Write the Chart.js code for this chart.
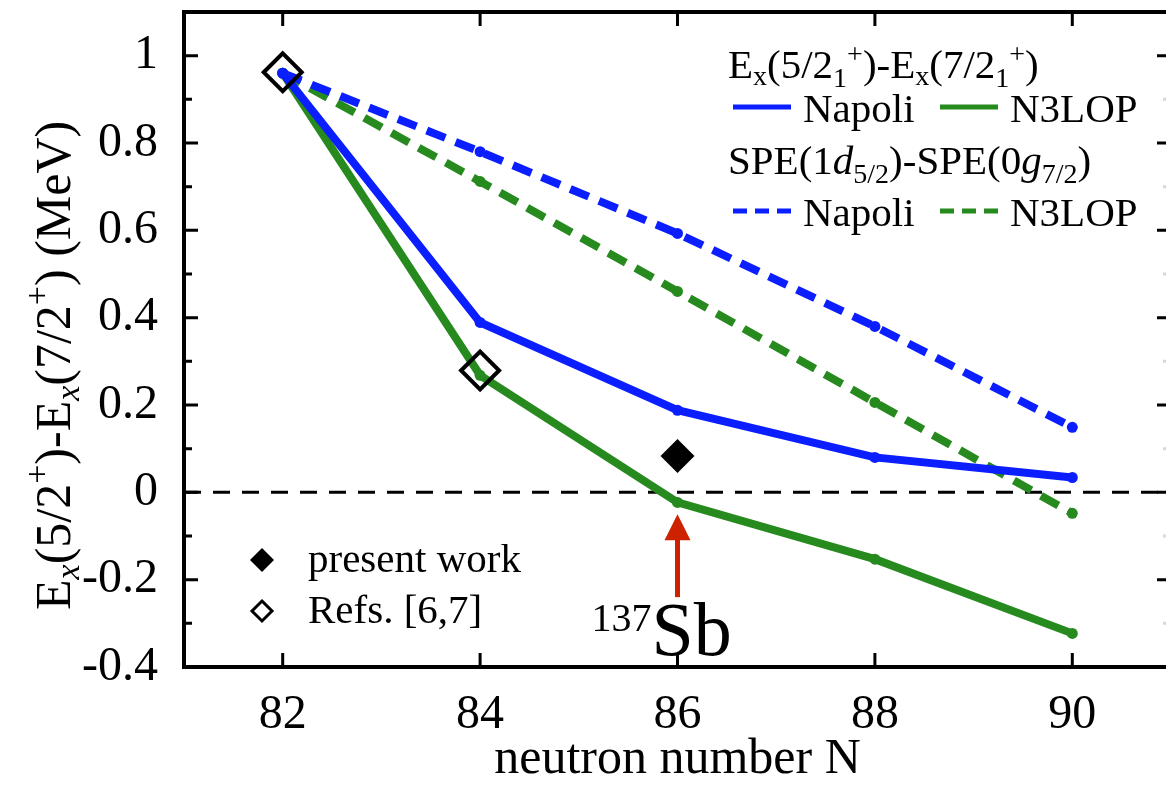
<!DOCTYPE html>
<html>
<head>
<meta charset="utf-8">
<script src="https://cdn.jsdelivr.net/npm/chart.js@4.4.1/dist/chart.umd.min.js"></script>
<style>
  html, body { margin: 0; padding: 0; background: #fff; overflow: hidden; }
  canvas { display: block; }
</style>
</head>
<body>
<canvas id="chart" width="1180" height="790"></canvas>
<script>
// values
const neutronN = [82, 84, 86, 88, 90];
const napoliEx = [0.96, 0.389, 0.188, 0.080, 0.034];
const n3lopEx = [0.96, 0.268, -0.023, -0.153, -0.323];
const napoliSpe = [0.96, 0.780, 0.593, 0.380, 0.149];
const n3lopSpe = [0.96, 0.712, 0.460, 0.206, -0.048];
const presentN = [86];
const presentVal = [0.083];
const refsN = [82, 84];
const refsVal = [0.962, 0.279];
const xTicks = [82, 84, 86, 88, 90];
const yTicks = [-0.4, -0.2, 0, 0.2, 0.4, 0.6, 0.8, 1];
const yMinor = [-0.3, -0.1, 0.1, 0.3, 0.5, 0.7, 0.9];

const BLUE = '#0a1eff';
const GREEN = '#268a1e';
const SERIF = '"Liberation Serif", "DejaVu Serif", serif';

const pts = (xs, ys) => xs.map((x, i) => ({ x: x, y: ys[i] }));

// text made of runs: {t, s (size), dy, it (italic)}
function drawRuns(ctx, x, y, runs) {
  runs.forEach(r => {
    ctx.font = (r.it ? 'italic ' : '') + r.s + 'px ' + SERIF;
    ctx.fillText(r.t, x, y + (r.dy || 0));
    x += ctx.measureText(r.t).width;
  });
  return x;
}

const frame = {
  id: 'frame',
  afterDatasetsDraw(chart) {
    const ctx = chart.ctx, a = chart.chartArea;
    const xs = chart.scales.x, ys = chart.scales.y;
    ctx.save();
    ctx.strokeStyle = '#000';
    ctx.lineWidth = 4;
    ctx.strokeRect(a.left, a.top, a.right - a.left, a.bottom - a.top);
    ctx.lineWidth = 3;
    ctx.beginPath();
    xTicks.forEach(v => {
      const px = xs.getPixelForValue(v);
      ctx.moveTo(px, a.bottom); ctx.lineTo(px, a.bottom - 14);
      ctx.moveTo(px, a.top); ctx.lineTo(px, a.top + 14);
    });
    yTicks.forEach(v => {
      const py = ys.getPixelForValue(v);
      ctx.moveTo(a.left, py); ctx.lineTo(a.left + 14, py);
      ctx.moveTo(a.right, py); ctx.lineTo(a.right - 14, py);
    });
    yMinor.forEach(v => {
      const py = ys.getPixelForValue(v);
      ctx.moveTo(a.left, py); ctx.lineTo(a.left + 8, py);
    });
    ctx.stroke();
    ctx.strokeStyle = '#d8d8d8';
    ctx.beginPath();
    yMinor.forEach(v => {
      const py = ys.getPixelForValue(v);
      ctx.moveTo(a.right, py); ctx.lineTo(a.right - 8, py);
    });
    ctx.stroke();

    // arrow to 137Sb
    const ax = xs.getPixelForValue(86);
    const tip = ys.getPixelForValue(-0.05);
    const base = ys.getPixelForValue(-0.24);
    ctx.strokeStyle = '#cc2200';
    ctx.fillStyle = '#cc2200';
    ctx.lineWidth = 5;
    ctx.beginPath();
    ctx.moveTo(ax, base); ctx.lineTo(ax, tip + 20);
    ctx.stroke();
    ctx.beginPath();
    ctx.moveTo(ax, tip); ctx.lineTo(ax - 13, tip + 26); ctx.lineTo(ax + 13, tip + 26);
    ctx.closePath(); ctx.fill();

    ctx.fillStyle = '#000';
    ctx.textBaseline = 'alphabetic';
    ctx.textAlign = 'left';
    drawRuns(ctx, ax - 86, base + 58, [{ t: '137', s: 40, dy: -24 }, { t: 'Sb', s: 76 }]);

    // upper right legend
    const lx = 728;
    drawRuns(ctx, lx, 78, [
      { t: 'E', s: 41 }, { t: 'x', s: 28, dy: 7 }, { t: '(5/2', s: 41 },
      { t: '1', s: 28, dy: 9 }, { t: '+', s: 28, dy: -15 }, { t: ')-E', s: 41 },
      { t: 'x', s: 28, dy: 7 }, { t: '(7/2', s: 41 }, { t: '1', s: 28, dy: 9 },
      { t: '+', s: 28, dy: -15 }, { t: ')', s: 41 }
    ]);
    drawRuns(ctx, lx, 174, [
      { t: 'SPE(1', s: 41 }, { t: 'd', s: 41, it: true }, { t: '5/2', s: 28, dy: 9 },
      { t: ')-SPE(0', s: 41 }, { t: 'g', s: 41, it: true }, { t: '7/2', s: 28, dy: 9 },
      { t: ')', s: 41 }
    ]);
    const sample = (x, y, color, dash) => {
      ctx.strokeStyle = color;
      ctx.lineWidth = 5;
      ctx.setLineDash(dash);
      ctx.beginPath(); ctx.moveTo(x, y); ctx.lineTo(x + 58, y); ctx.stroke();
      ctx.setLineDash([]);
    };
    sample(733, 107, BLUE, []);
    sample(940, 107, GREEN, []);
    sample(733, 211, BLUE, [14, 8]);
    sample(940, 211, GREEN, [14, 8]);
    ctx.fillStyle = '#000';
    drawRuns(ctx, 803, 122, [{ t: 'Napoli', s: 41 }]);
    drawRuns(ctx, 1010, 122, [{ t: 'N3LOP', s: 41 }]);
    drawRuns(ctx, 803, 226, [{ t: 'Napoli', s: 41 }]);
    drawRuns(ctx, 1010, 226, [{ t: 'N3LOP', s: 41 }]);

    // lower left legend
    const dia = (x, y, r, fill) => {
      ctx.beginPath();
      ctx.moveTo(x, y - r); ctx.lineTo(x + r, y); ctx.lineTo(x, y + r); ctx.lineTo(x - r, y);
      ctx.closePath();
      if (fill) { ctx.fillStyle = '#000'; ctx.fill(); }
      else { ctx.strokeStyle = '#000'; ctx.lineWidth = 3; ctx.stroke(); }
    };
    dia(262, 560, 12, true);
    dia(262, 611, 10, false);
    ctx.fillStyle = '#000';
    drawRuns(ctx, 308, 572, [{ t: 'present work', s: 41 }]);
    drawRuns(ctx, 308, 623, [{ t: 'Refs. [6,7]', s: 41 }]);

    // y axis title
    ctx.save();
    ctx.translate(70, 610);
    ctx.rotate(-Math.PI / 2);
    drawRuns(ctx, 0, 0, [
      { t: 'E', s: 50 }, { t: 'x', s: 34, dy: 9, it: true }, { t: '(5/2', s: 50 },
      { t: '+', s: 34, dy: -22 }, { t: ')-E', s: 50 }, { t: 'x', s: 34, dy: 9, it: true },
      { t: '(7/2', s: 50 }, { t: '+', s: 34, dy: -22 }, { t: ') (MeV)', s: 50 }
    ]);
    ctx.restore();
    ctx.restore();
  }
};

const lineSet = (label, data, color, dash) => ({
  label: label,
  data: pts(neutronN, data),
  borderColor: color,
  backgroundColor: color,
  borderWidth: 8,
  borderDash: dash,
  pointRadius: 5.5,
  pointBorderWidth: 0,
  tension: 0
});

new Chart(document.getElementById('chart'), {
  type: 'line',
  data: {
    datasets: [
      {
        label: 'present work',
        data: pts(presentN, presentVal),
        showLine: false,
        pointStyle: 'rectRot',
        pointRadius: 17,
        backgroundColor: '#000',
        borderColor: '#000',
        borderWidth: 0
      },
      {
        label: 'Refs. [6,7]',
        data: pts(refsN, refsVal),
        showLine: false,
        pointStyle: 'rectRot',
        pointRadius: 19,
        backgroundColor: 'rgba(0,0,0,0)',
        borderColor: '#000',
        borderWidth: 4
      },
      lineSet('Napoli', napoliEx, BLUE, []),
      lineSet('N3LOP', n3lopEx, GREEN, []),
      lineSet('Napoli SPE', napoliSpe, BLUE, [20, 11]),
      lineSet('N3LOP SPE', n3lopSpe, GREEN, [20, 11]),
      {
        label: 'zero',
        data: [{ x: 81, y: 0 }, { x: 91, y: 0 }],
        borderColor: '#000',
        borderWidth: 3,
        borderDash: [17, 12],
        pointRadius: 0
      }
    ]
  },
  options: {
    responsive: false,
    animation: false,
    layout: { autoPadding: false, padding: { top: 12, right: 9, left: 0, bottom: 0 } },
    plugins: { legend: { display: false }, tooltip: { enabled: false } },
    scales: {
      x: {
        type: 'linear',
        min: 81, max: 91,
        afterBuildTicks: s => { s.ticks = xTicks.map(v => ({ value: v })); },
        afterFit: s => { s.height = 123; s.paddingLeft = 0; s.paddingRight = 0; },
        grid: { display: false },
        border: { display: false },
        ticks: { color: '#000', padding: 12, font: { family: SERIF, size: 48 } },
        title: {
          display: true,
          text: 'neutron number N',
          color: '#000',
          padding: { top: 0, bottom: 0 },
          font: { family: SERIF, size: 50 }
        }
      },
      y: {
        min: -0.4, max: 1.1,
        afterBuildTicks: s => { s.ticks = yTicks.map(v => ({ value: v })); },
        afterFit: s => { s.width = 184; s.paddingTop = 0; s.paddingBottom = 0; },
        grid: { display: false },
        border: { display: false },
        ticks: {
          color: '#000',
          padding: 18,
          font: { family: SERIF, size: 48 },
          callback: v => String(Number(v.toFixed(1)))
        }
      }
    }
  },
  plugins: [frame]
});
</script>
</body>
</html>
